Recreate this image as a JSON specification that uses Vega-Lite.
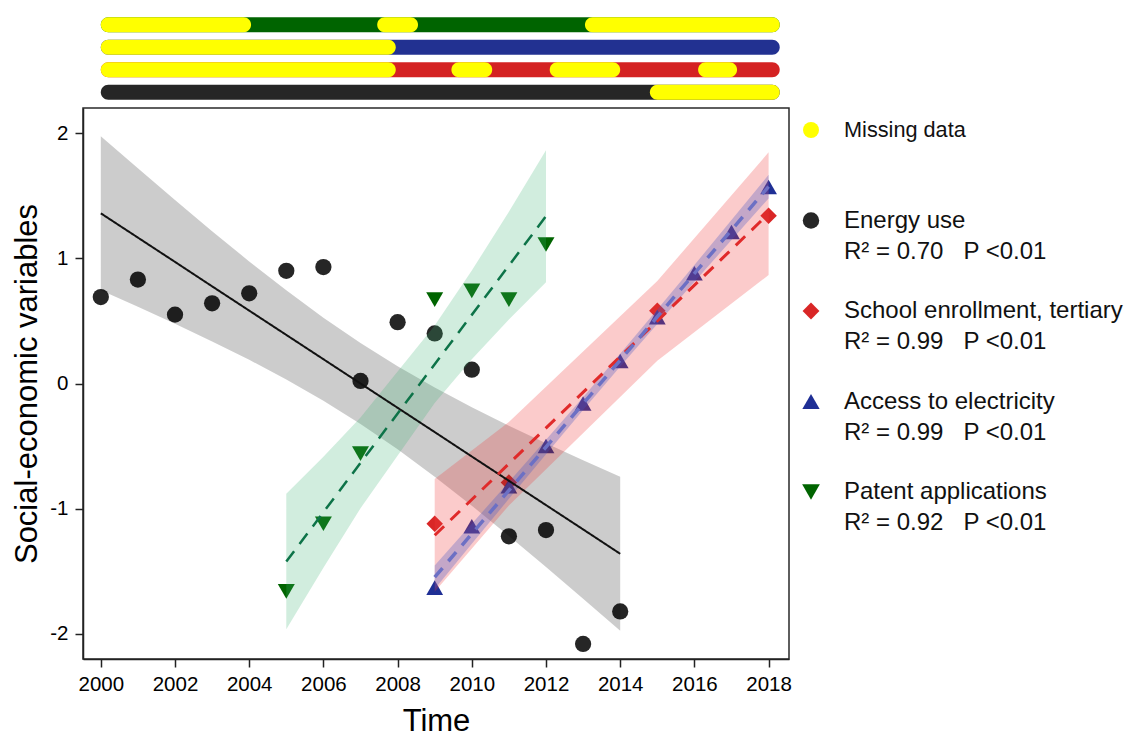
{
  "$schema": "https://vega.github.io/schema/vega-lite/v6.json",
  "background": "white",
  "padding": {"left": 11, "top": 13.5, "right": 4, "bottom": 0},
  "config": {
    "font": "Liberation Sans",
    "view": {"stroke": null},
    "axis": {"labelFont": "Liberation Sans", "titleFont": "Liberation Sans"},
    "text": {"font": "Liberation Sans"}
  },
  "datasets": {
    "coverage": [
      {"row": "Patent applications", "status": "Patent applications", "from": 2000, "to": 2018.3},
      {"row": "Access to electricity", "status": "Access to electricity", "from": 2000, "to": 2018.3},
      {"row": "School enrollment, tertiary", "status": "School enrollment, tertiary", "from": 2000, "to": 2018.3},
      {"row": "Energy use", "status": "Energy use", "from": 2000, "to": 2018.3},
      {"row": "Patent applications", "status": "Missing data", "from": 2000, "to": 2004.05},
      {"row": "Patent applications", "status": "Missing data", "from": 2007.45, "to": 2008.55},
      {"row": "Patent applications", "status": "Missing data", "from": 2013.05, "to": 2018.3},
      {"row": "Access to electricity", "status": "Missing data", "from": 2000, "to": 2007.95},
      {"row": "School enrollment, tertiary", "status": "Missing data", "from": 2000, "to": 2007.95},
      {"row": "School enrollment, tertiary", "status": "Missing data", "from": 2009.45, "to": 2010.55},
      {"row": "School enrollment, tertiary", "status": "Missing data", "from": 2012.1, "to": 2014.0},
      {"row": "School enrollment, tertiary", "status": "Missing data", "from": 2016.1, "to": 2017.15},
      {"row": "Energy use", "status": "Missing data", "from": 2014.8, "to": 2018.3}
    ],
    "obs": [
      {"series": "Energy use", "year": 2000, "value": 0.69},
      {"series": "Energy use", "year": 2001, "value": 0.83},
      {"series": "Energy use", "year": 2002, "value": 0.55},
      {"series": "Energy use", "year": 2003, "value": 0.64},
      {"series": "Energy use", "year": 2004, "value": 0.72},
      {"series": "Energy use", "year": 2005, "value": 0.90},
      {"series": "Energy use", "year": 2006, "value": 0.93},
      {"series": "Energy use", "year": 2007, "value": 0.02},
      {"series": "Energy use", "year": 2008, "value": 0.49},
      {"series": "Energy use", "year": 2009, "value": 0.40},
      {"series": "Energy use", "year": 2010, "value": 0.11},
      {"series": "Energy use", "year": 2011, "value": -1.22},
      {"series": "Energy use", "year": 2012, "value": -1.17},
      {"series": "Energy use", "year": 2013, "value": -2.08},
      {"series": "Energy use", "year": 2014, "value": -1.82},
      {"series": "School enrollment, tertiary", "year": 2009, "value": -1.12},
      {"series": "School enrollment, tertiary", "year": 2011, "value": -0.79},
      {"series": "School enrollment, tertiary", "year": 2015, "value": 0.58},
      {"series": "School enrollment, tertiary", "year": 2018, "value": 1.34},
      {"series": "Access to electricity", "year": 2009, "value": -1.63},
      {"series": "Access to electricity", "year": 2010, "value": -1.14},
      {"series": "Access to electricity", "year": 2011, "value": -0.82},
      {"series": "Access to electricity", "year": 2012, "value": -0.50},
      {"series": "Access to electricity", "year": 2013, "value": -0.16},
      {"series": "Access to electricity", "year": 2014, "value": 0.18},
      {"series": "Access to electricity", "year": 2015, "value": 0.53},
      {"series": "Access to electricity", "year": 2016, "value": 0.88},
      {"series": "Access to electricity", "year": 2017, "value": 1.21},
      {"series": "Access to electricity", "year": 2018, "value": 1.57},
      {"series": "Patent applications", "year": 2005, "value": -1.66},
      {"series": "Patent applications", "year": 2006, "value": -1.12},
      {"series": "Patent applications", "year": 2007, "value": -0.56},
      {"series": "Patent applications", "year": 2009, "value": 0.67},
      {"series": "Patent applications", "year": 2010, "value": 0.74},
      {"series": "Patent applications", "year": 2011, "value": 0.67},
      {"series": "Patent applications", "year": 2012, "value": 1.11}
    ],
    "fits": [
      {"series": "Energy use", "year": 2000, "fit": 1.359, "lo": 0.744, "hi": 1.974},
      {"series": "Energy use", "year": 2001, "fit": 1.165, "lo": 0.612, "hi": 1.718},
      {"series": "Energy use", "year": 2002, "fit": 0.971, "lo": 0.477, "hi": 1.465},
      {"series": "Energy use", "year": 2003, "fit": 0.776, "lo": 0.336, "hi": 1.216},
      {"series": "Energy use", "year": 2004, "fit": 0.582, "lo": 0.189, "hi": 0.975},
      {"series": "Energy use", "year": 2005, "fit": 0.388, "lo": 0.032, "hi": 0.744},
      {"series": "Energy use", "year": 2006, "fit": 0.194, "lo": -0.138, "hi": 0.526},
      {"series": "Energy use", "year": 2007, "fit": 0.000, "lo": -0.323, "hi": 0.323},
      {"series": "Energy use", "year": 2008, "fit": -0.194, "lo": -0.526, "hi": 0.138},
      {"series": "Energy use", "year": 2009, "fit": -0.388, "lo": -0.744, "hi": -0.032},
      {"series": "Energy use", "year": 2010, "fit": -0.583, "lo": -0.976, "hi": -0.190},
      {"series": "Energy use", "year": 2011, "fit": -0.777, "lo": -1.217, "hi": -0.337},
      {"series": "Energy use", "year": 2012, "fit": -0.971, "lo": -1.465, "hi": -0.477},
      {"series": "Energy use", "year": 2013, "fit": -1.165, "lo": -1.718, "hi": -0.612},
      {"series": "Energy use", "year": 2014, "fit": -1.360, "lo": -1.975, "hi": -0.745},
      {"series": "Patent applications", "year": 2005, "fit": -1.422, "lo": -1.963, "hi": -0.881},
      {"series": "Patent applications", "year": 2006, "fit": -1.028, "lo": -1.471, "hi": -0.585},
      {"series": "Patent applications", "year": 2007, "fit": -0.634, "lo": -0.997, "hi": -0.271},
      {"series": "Patent applications", "year": 2009, "fit": 0.154, "lo": -0.156, "hi": 0.464},
      {"series": "Patent applications", "year": 2010, "fit": 0.548, "lo": 0.194, "hi": 0.902},
      {"series": "Patent applications", "year": 2011, "fit": 0.942, "lo": 0.512, "hi": 1.372},
      {"series": "Patent applications", "year": 2012, "fit": 1.336, "lo": 0.809, "hi": 1.863},
      {"series": "School enrollment, tertiary", "year": 2009, "fit": -1.212, "lo": -1.662, "hi": -0.762},
      {"series": "School enrollment, tertiary", "year": 2011, "fit": -0.641, "lo": -0.974, "hi": -0.308},
      {"series": "School enrollment, tertiary", "year": 2015, "fit": 0.500, "lo": 0.182, "hi": 0.818},
      {"series": "School enrollment, tertiary", "year": 2018, "fit": 1.356, "lo": 0.866, "hi": 1.846},
      {"series": "Access to electricity", "year": 2009, "fit": -1.547, "lo": -1.641, "hi": -1.453},
      {"series": "Access to electricity", "year": 2010, "fit": -1.200, "lo": -1.280, "hi": -1.120},
      {"series": "Access to electricity", "year": 2011, "fit": -0.854, "lo": -0.921, "hi": -0.787},
      {"series": "Access to electricity", "year": 2012, "fit": -0.507, "lo": -0.564, "hi": -0.450},
      {"series": "Access to electricity", "year": 2013, "fit": -0.161, "lo": -0.212, "hi": -0.110},
      {"series": "Access to electricity", "year": 2014, "fit": 0.186, "lo": 0.135, "hi": 0.237},
      {"series": "Access to electricity", "year": 2015, "fit": 0.533, "lo": 0.476, "hi": 0.590},
      {"series": "Access to electricity", "year": 2016, "fit": 0.879, "lo": 0.812, "hi": 0.946},
      {"series": "Access to electricity", "year": 2017, "fit": 1.226, "lo": 1.146, "hi": 1.306},
      {"series": "Access to electricity", "year": 2018, "fit": 1.572, "lo": 1.478, "hi": 1.666}
    ],
    "keys": [
      {"entry": "Missing data", "stat": ""},
      {"entry": "Energy use", "stat": "R² = 0.70\u00a0\u00a0\u00a0P <0.01"},
      {"entry": "School enrollment, tertiary", "stat": "R² = 0.99\u00a0\u00a0\u00a0P <0.01"},
      {"entry": "Access to electricity", "stat": "R² = 0.99\u00a0\u00a0\u00a0P <0.01"},
      {"entry": "Patent applications", "stat": "R² = 0.92\u00a0\u00a0\u00a0P <0.01"}
    ]
  },
  "hconcat": [
    {
      "vconcat": [
        {
          "width": 706,
          "height": 90,
          "view": {"stroke": null},
          "data": {"name": "coverage"},
          "mark": {"type": "bar", "cornerRadius": 7.5},
          "encoding": {
            "x": {"field": "from", "type": "quantitative", "scale": {"domain": [1999.52, 2018.55], "nice": false, "zero": false}, "axis": null},
            "x2": {"field": "to"},
            "y": {"field": "row", "type": "nominal", "scale": {"type": "band", "domain": ["Patent applications", "Access to electricity", "School enrollment, tertiary", "Energy use"], "paddingInner": 0.3333, "paddingOuter": 0.1667}, "axis": null},
            "color": {"field": "status", "type": "nominal", "legend": null,
              "scale": {"domain": ["Missing data", "Energy use", "School enrollment, tertiary", "Access to electricity", "Patent applications"],
                        "range": ["#ffff00", "#262626", "#d42222", "#223191", "#006400"]}}
          }
        },
        {
          "width": 706,
          "height": 551,
          "view": {"stroke": "#2a2a2a", "strokeWidth": 1.5},
          "encoding": {
            "x": {"field": "year", "type": "quantitative", "scale": {"domain": [1999.52, 2018.55], "nice": false, "zero": false},
              "axis": {"title": "Time", "values": [2000, 2002, 2004, 2006, 2008, 2010, 2012, 2014, 2016, 2018], "format": "d", "grid": false,
                "domainColor": "#222222", "domainWidth": 1.5, "tickColor": "#222222", "tickWidth": 1.5, "tickSize": 8,
                "labelFontSize": 20.5, "labelColor": "#000000", "labelPadding": 7, "labelFlush": false,
                "titleFontSize": 31, "titleFontWeight": "normal", "titleColor": "#000000", "titlePadding": 12}}
          },
          "layer": [
            {
              "data": {"name": "obs"},
              "mark": {"type": "point", "filled": true, "opacity": 1, "strokeWidth": 0},
              "encoding": {
                "y": {"field": "value", "type": "quantitative", "scale": {"domain": [-2.2, 2.2], "nice": false, "zero": false},
                  "axis": {"title": "Social-economic variables", "values": [-2, -1, 0, 1, 2], "format": "d", "grid": false,
                    "labelExpr": "datum.value < 0 ? '-' + abs(datum.value) : datum.label",
                    "domainColor": "#222222", "domainWidth": 1.5, "tickColor": "#222222", "tickWidth": 1.5, "tickSize": 8,
                    "labelFontSize": 20.5, "labelColor": "#000000", "labelPadding": 7,
                    "titleFontSize": 31, "titleFontWeight": "normal", "titleColor": "#000000", "titlePadding": 6}},
                "color": {"field": "series", "type": "nominal", "legend": null,
                  "scale": {"domain": ["Missing data", "Energy use", "School enrollment, tertiary", "Access to electricity", "Patent applications"],
                            "range": ["#ffff00", "#262626", "#d92626", "#1f2f95", "#006400"]}},
                "shape": {"field": "series", "type": "nominal", "legend": null,
                  "scale": {"domain": ["Missing data", "Energy use", "School enrollment, tertiary", "Access to electricity", "Patent applications"],
                            "range": ["circle", "circle", "diamond", "triangle-up", "triangle-down"]}},
                "size": {"field": "series", "type": "ordinal", "legend": null,
                  "scale": {"domain": ["Missing data", "Energy use", "School enrollment, tertiary", "Access to electricity", "Patent applications"],
                            "range": [256, 289, 430, 361, 400]}}
              }
            },
            {
              "data": {"name": "fits"},
              "mark": {"type": "area"},
              "encoding": {
                "y": {"field": "lo", "type": "quantitative", "title": "Social-economic variables"},
                "y2": {"field": "hi"},
                "fill": {"field": "series", "type": "nominal", "legend": null,
                  "scale": {"domain": ["Energy use", "Patent applications", "School enrollment, tertiary", "Access to electricity"],
                            "range": ["#000000", "#3cb371", "#f03c3c", "#4455c4"]}},
                "fillOpacity": {"field": "series", "type": "ordinal", "legend": null,
                  "scale": {"domain": ["Energy use", "Patent applications", "School enrollment, tertiary", "Access to electricity"],
                            "range": [0.2, 0.3, 0.33, 0.25]}}
              }
            },
            {
              "data": {"name": "fits"},
              "mark": {"type": "line", "strokeCap": "butt"},
              "encoding": {
                "y": {"field": "fit", "type": "quantitative", "title": "Social-economic variables"},
                "stroke": {"field": "series", "type": "nominal", "legend": null,
                  "scale": {"domain": ["Energy use", "Patent applications", "School enrollment, tertiary", "Access to electricity"],
                            "range": ["#111111", "#0d7348", "#e02a2a", "#6c70c4"]}},
                "strokeDash": {"field": "series", "type": "nominal", "legend": null,
                  "scale": {"domain": ["Energy use", "Patent applications", "School enrollment, tertiary", "Access to electricity"],
                            "range": [[1, 0], [13, 9], [13, 9], [12, 9]]}},
                "strokeWidth": {"field": "series", "type": "ordinal", "legend": null,
                  "scale": {"domain": ["Energy use", "Patent applications", "School enrollment, tertiary", "Access to electricity"],
                            "range": [2, 3.5, 3, 3.5]}}
              }
            }
          ]
        }
      ],
      "spacing": 4.5,
      "bounds": "flush",
      "resolve": {"scale": {"color": "independent", "x": "independent"}}
    },
    {
      "width": 20,
      "height": 543,
      "view": {"stroke": null},
      "data": {"name": "keys"},
      "encoding": {
        "y": {"field": "entry", "type": "nominal", "axis": null,
          "scale": {"type": "point", "padding": 1,
                    "domain": ["Missing data", "Energy use", "School enrollment, tertiary", "Access to electricity", "Patent applications"]}}
      },
      "layer": [
        {
          "mark": {"type": "point", "filled": true, "opacity": 1, "strokeWidth": 0, "yOffset": 26},
          "encoding": {
            "color": {"field": "entry", "type": "nominal", "legend": null,
              "scale": {"domain": ["Missing data", "Energy use", "School enrollment, tertiary", "Access to electricity", "Patent applications"],
                        "range": ["#ffff00", "#262626", "#d92626", "#1f2f95", "#006400"]}},
            "shape": {"field": "entry", "type": "nominal", "legend": null,
              "scale": {"domain": ["Missing data", "Energy use", "School enrollment, tertiary", "Access to electricity", "Patent applications"],
                        "range": ["circle", "circle", "diamond", "triangle-up", "triangle-down"]}},
            "size": {"field": "entry", "type": "ordinal", "legend": null,
              "scale": {"domain": ["Missing data", "Energy use", "School enrollment, tertiary", "Access to electricity", "Patent applications"],
                        "range": [256, 313, 430, 361, 361]}}
          }
        },
        {
          "transform": [{"filter": "datum.entry === 'Missing data'"}],
          "mark": {"type": "text", "align": "left", "baseline": "middle", "dx": 33, "yOffset": 26, "fontSize": 21.7, "color": "#111111"},
          "encoding": {"text": {"field": "entry"}}
        },
        {
          "transform": [{"filter": "datum.entry !== 'Missing data'"}],
          "mark": {"type": "text", "align": "left", "baseline": "middle", "dx": 33, "yOffset": 26, "fontSize": 24, "color": "#111111"},
          "encoding": {"text": {"field": "entry"}}
        },
        {
          "transform": [{"filter": "datum.entry !== 'Missing data'"}],
          "mark": {"type": "text", "align": "left", "baseline": "middle", "dx": 33, "dy": 31, "yOffset": 26, "fontSize": 24, "color": "#111111"},
          "encoding": {"text": {"field": "stat"}}
        }
      ]
    }
  ],
  "spacing": 8,
  "resolve": {"scale": {"color": "independent", "shape": "independent", "size": "independent", "y": "independent"}}
}
